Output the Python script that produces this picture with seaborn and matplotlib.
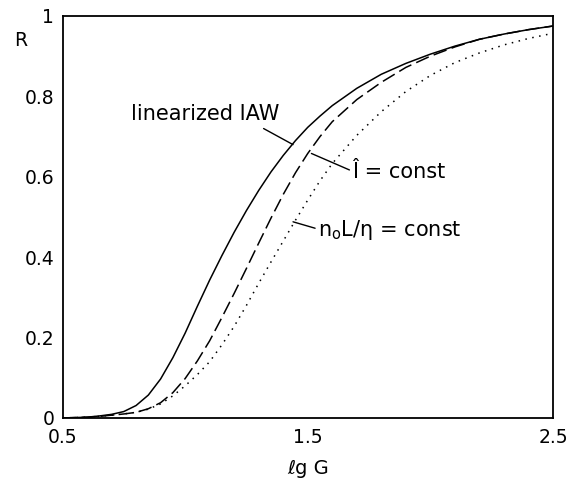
import matplotlib
matplotlib.use("Agg")
import matplotlib.pyplot as plt
import seaborn as sns
import pandas as pd

# ---- data ----
lgG = [0.50, 0.55, 0.60, 0.65, 0.70, 0.75, 0.80, 0.85, 0.90, 0.95,
       1.00, 1.05, 1.10, 1.15, 1.20, 1.25, 1.30, 1.35, 1.40, 1.45, 1.50, 1.55,
       1.6, 1.7, 1.8, 1.9, 2.0, 2.1, 2.2, 2.3, 2.4, 2.5]
R_linearized = [0.0, 0.001, 0.002, 0.005, 0.009, 0.016, 0.031, 0.057, 0.097, 0.150,
                0.211, 0.278, 0.343, 0.404, 0.462, 0.516, 0.566, 0.612, 0.653, 0.690, 0.723, 0.751,
                0.777, 0.820, 0.855, 0.882, 0.905, 0.925, 0.942, 0.955, 0.966, 0.975]
R_Ihat = [0.0, 0.001, 0.002, 0.004, 0.007, 0.010, 0.014, 0.023, 0.038, 0.063,
          0.098, 0.142, 0.192, 0.250, 0.310, 0.372, 0.435, 0.497, 0.556, 0.610, 0.658, 0.700,
          0.737, 0.792, 0.835, 0.872, 0.900, 0.923, 0.942, 0.955, 0.966, 0.975]
R_n0L = [0.0, 0.001, 0.002, 0.004, 0.007, 0.010, 0.014, 0.022, 0.035, 0.055,
         0.080, 0.108, 0.140, 0.182, 0.228, 0.280, 0.335, 0.388, 0.440, 0.492, 0.542, 0.590,
         0.633, 0.703, 0.762, 0.812, 0.852, 0.884, 0.908, 0.928, 0.944, 0.957]

x_ticks = [0.5, 1.5, 2.5]
x_tick_labels = ["0.5", "1.5", "2.5"]
y_ticks = [0, 0.2, 0.4, 0.6, 0.8, 1.0]
y_tick_labels = ["0", "0.2", "0.4", "0.6", "0.8", "1"]

df = pd.concat([
    pd.DataFrame({"lgG": lgG, "R": R_linearized, "curve": "lin"}),
    pd.DataFrame({"lgG": lgG, "R": R_Ihat, "curve": "ihat"}),
    pd.DataFrame({"lgG": lgG, "R": R_n0L, "curve": "n0L"}),
], ignore_index=True)

sns.set_style("white")
plt.rcParams["font.family"] = ["DejaVu Sans"]
plt.rcParams["text.color"] = "black"
plt.rcParams["axes.labelcolor"] = "black"

fig = plt.figure(figsize=(5.75, 4.84), dpi=100)
ax = fig.add_axes([0.1087, 0.1364, 0.853, 0.8306])

sns.lineplot(data=df, x="lgG", y="R", style="curve", color="black",
             dashes={"lin": "", "ihat": (9, 3.5), "n0L": (1.0, 3.6)},
             linewidth=1.1, legend=False, ax=ax, sort=False)

ax.set_xlim(0.5, 2.5)
ax.set_ylim(0, 1)
ax.set_xticks(x_ticks)
ax.set_xticklabels(x_tick_labels)
ax.set_yticks(y_ticks)
ax.set_yticklabels(y_tick_labels)
ax.tick_params(axis="x", direction="in", length=5, width=1, pad=7, labelsize=13.5, colors="black")
ax.tick_params(axis="y", length=0, pad=6, labelsize=13.5, colors="black")

for s in ax.spines.values():
    s.set_visible(True)
    s.set_color("black")
    s.set_linewidth(1.3)

ax.set_xlabel("ℓg G", fontsize=14, labelpad=9, color="black")
ax.set_ylabel("R", fontsize=13.5, rotation=0, color="black")
ax.yaxis.set_label_coords(-0.085, 0.915)

fs = 15
ax.text(1.08, 0.756, "linearized IAW", fontsize=fs, ha="center", va="center", color="black")
ax.plot([1.32, 1.44], [0.72, 0.68], color="black", lw=1.0)
ax.text(1.68, 0.612, "Î = const", fontsize=fs, ha="left", va="center", color="black")
ax.plot([1.515, 1.67], [0.658, 0.617], color="black", lw=1.0)
ax.text(1.543, 0.468, "n$_\\mathrm{o}$L/η = const", fontsize=fs, ha="left", va="center", color="black")
ax.plot([1.44, 1.53], [0.488, 0.472], color="black", lw=1.0)

fig.savefig("out.png", dpi=100)
